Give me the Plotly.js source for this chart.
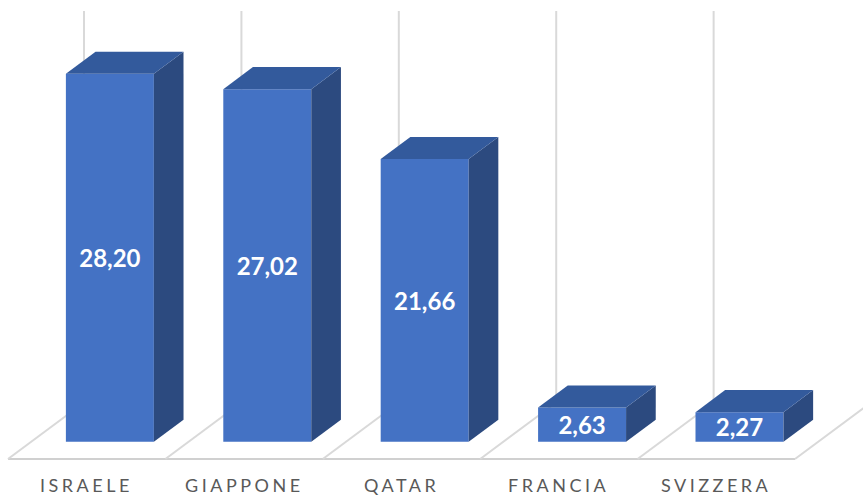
<!DOCTYPE html>
<html>
<head>
<meta charset="utf-8">
<script src="https://cdn.plot.ly/plotly-3.0.1.min.js"></script>
<style>
  html, body { margin: 0; padding: 0; background: #ffffff; }
  #chart { width: 863px; height: 496px; }
  .annotation-text { letter-spacing: 3.5px; }
</style>
</head>
<body>
<div id="chart"></div>
<script>
// ---- data ----
const categories = ['ISRAELE', 'GIAPPONE', 'QATAR', 'FRANCIA', 'SVIZZERA'];
const values = [28.20, 27.02, 21.66, 2.63, 2.27];
const valueLabels = ['28,20', '27,02', '21,66', '2,63', '2,27'];

// ---- oblique 3D geometry (axis units) ----
const DX = 0.483;   // floor depth, horizontal (category units)
const DY = 4.33;    // floor depth, vertical (value units)
const D0 = 0.305, D1 = 0.695; // bar depth span (fraction of floor depth)
const BAR_W = 0.559;
const WALL_H = 30;
const LABEL_SHIFT = 0.25; // small vertical nudge for centered labels

const FRONT = '#4472C4', TOP = '#335A9C', SIDE = '#2C4A7F';
const GRID = '#D9D9D9';

const traces = [];
const shapes = [];
const n = categories.length;

// floor outline and back-wall gridlines (drawn below all traces)
shapes.push({type: 'line', layer: 'below', xref: 'x', yref: 'y', x0: 0, y0: 0, x1: n, y1: 0,
  line: {color: '#D0D0D0', width: 2}});
for (let c = 0; c <= n; c++) {
  shapes.push({type: 'line', layer: 'below', xref: 'x', yref: 'y', x0: c, y0: 0, x1: c + DX, y1: DY,
    line: {color: GRID, width: 2}});
  shapes.push({type: 'line', layer: 'below', xref: 'x', yref: 'y', x0: c + DX, y0: DY, x1: c + DX, y1: DY + WALL_H,
    line: {color: GRID, width: 2}});
}

const bx = [], base = [], lx = [], ly = [];
const bdx = (D1 - D0) * DX, bdy = (D1 - D0) * DY;
values.forEach((v, i) => {
  const cx = i + 0.5 + D0 * DX;
  const b = D0 * DY;
  const x0 = cx - BAR_W / 2, x1 = cx + BAR_W / 2, top = b + v;
  bx.push(cx); base.push(b);
  lx.push(cx); ly.push(b + v / 2 - LABEL_SHIFT);
  // side face
  traces.push({x: [x1, x1, x1 + bdx, x1 + bdx, x1], y: [b, top, top + bdy, b + bdy, b],
    mode: 'lines', fill: 'toself', fillcolor: SIDE, line: {width: 0, color: SIDE}, hoverinfo: 'skip'});
  // top face
  traces.push({x: [x0, x1, x1 + bdx, x0 + bdx, x0], y: [top, top, top + bdy, top + bdy, top],
    mode: 'lines', fill: 'toself', fillcolor: TOP, line: {width: 0, color: TOP}, hoverinfo: 'skip'});
});

// front faces
traces.push({type: 'bar', x: bx, y: values, base: base, width: BAR_W,
  marker: {color: FRONT, line: {width: 0}}, hoverinfo: 'skip'});

// value labels
traces.push({x: lx, y: ly, mode: 'text', text: valueLabels,
  textfont: {family: 'Lato, Roboto, sans-serif', size: 24, color: '#ffffff', weight: 'bold'},
  hoverinfo: 'skip'});

const annotations = categories.map((c, i) => ({
  x: i + 0.5, y: -2.0, xref: 'x', yref: 'y', text: c, showarrow: false,
  xanchor: 'center', yanchor: 'middle',
  font: {family: 'Lato, Roboto, sans-serif', size: 18, color: '#595959'}
}));

const layout = {
  width: 863, height: 496,
  margin: {l: 0, r: 0, t: 0, b: 0},
  paper_bgcolor: '#ffffff', plot_bgcolor: '#ffffff',
  showlegend: false,
  xaxis: {range: [-0.0508, 5.432], visible: false, fixedrange: true},
  yaxis: {range: [-2.835, 35.172], visible: false, fixedrange: true},
  shapes: shapes,
  annotations: annotations
};

Plotly.newPlot('chart', traces, layout, {staticPlot: true, displayModeBar: false});
</script>
</body>
</html>
